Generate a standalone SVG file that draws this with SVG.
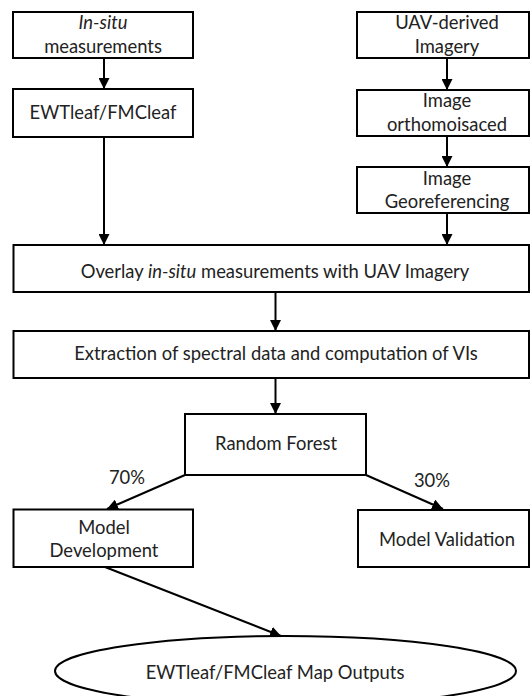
<svg xmlns="http://www.w3.org/2000/svg" width="530" height="696" viewBox="0 0 530 696">
<style>
.box{fill:#fff;stroke:#000;stroke-width:2}
.t{font-family:Lato,"Liberation Sans",sans-serif;font-size:18.4px;fill:#222;text-anchor:middle}
.c{stroke:#000;stroke-width:2;fill:none;marker-end:url(#ah)}
</style>
<defs>
<marker id="ah" viewBox="0 0 10 10" refX="10" refY="5" markerWidth="5.5" markerHeight="5.5" orient="auto" markerUnits="strokeWidth">
<path d="M0,0 L10,5 L0,10 z" fill="#000"/>
</marker>
</defs>
<rect width="530" height="696" fill="#fff"/>
<g id="connectors">
<line class="c" x1="104" y1="58" x2="104" y2="89"/>
<line class="c" x1="104" y1="137" x2="104" y2="245"/>
<line class="c" x1="447" y1="58" x2="447" y2="90"/>
<line class="c" x1="447" y1="136" x2="447" y2="167"/>
<line class="c" x1="447" y1="213" x2="447" y2="245"/>
<line class="c" x1="275.5" y1="292" x2="275.5" y2="331"/>
<line class="c" x1="275.5" y1="378" x2="275.5" y2="414"/>
<line class="c" x1="185" y1="475" x2="107" y2="509"/>
<line class="c" x1="366" y1="475" x2="443" y2="509"/>
<line class="c" x1="105" y1="567" x2="281" y2="636"/>
<text class="t" x="127" y="484">70%</text>
<text class="t" x="432" y="487">30%</text>
</g>
<g id="insitu">
<rect class="box" x="13" y="12" width="180" height="46"/>
<text class="t" x="103" y="29" font-style="italic">In-situ</text>
<text class="t" x="103" y="53">measurements</text>
</g>
<g id="ewt">
<rect class="box" x="13" y="89" width="180" height="48"/>
<text class="t" x="103" y="119">EWTleaf/FMCleaf</text>
</g>
<g id="uav">
<rect class="box" x="357" y="12" width="172" height="46"/>
<text class="t" x="447" y="29">UAV-derived</text>
<text class="t" x="447" y="53">Imagery</text>
</g>
<g id="ortho">
<rect class="box" x="357" y="90" width="172" height="46"/>
<text class="t" x="447" y="107">Image</text>
<text class="t" x="447" y="131">orthomoisaced</text>
</g>
<g id="georef">
<rect class="box" x="357" y="167" width="172" height="46"/>
<text class="t" x="447" y="185">Image</text>
<text class="t" x="447" y="208">Georeferencing</text>
</g>
<g id="overlay">
<rect class="box" x="13.5" y="245" width="515.5" height="47"/>
<text class="t" x="275" y="278">Overlay <tspan font-style="italic">in-situ</tspan> measurements with UAV Imagery</text>
</g>
<g id="extraction">
<rect class="box" x="13.5" y="331" width="515.5" height="47"/>
<text class="t" x="276" y="360">Extraction of spectral data and computation of VIs</text>
</g>
<g id="rf">
<rect class="box" x="185" y="414" width="181" height="61"/>
<text class="t" x="276" y="450">Random Forest</text>
</g>
<g id="dev">
<rect class="box" x="13.5" y="509.5" width="179.5" height="57.5"/>
<text class="t" x="104" y="534">Model</text>
<text class="t" x="104" y="557">Development</text>
</g>
<g id="val">
<rect class="box" x="358" y="510" width="171" height="57"/>
<text class="t" x="447" y="546">Model Validation</text>
</g>
<g id="outputs">
<ellipse class="box" cx="285.5" cy="671" rx="230.5" ry="35"/>
<text class="t" x="275" y="679">EWTleaf/FMCleaf Map Outputs</text>
</g>
</svg>
